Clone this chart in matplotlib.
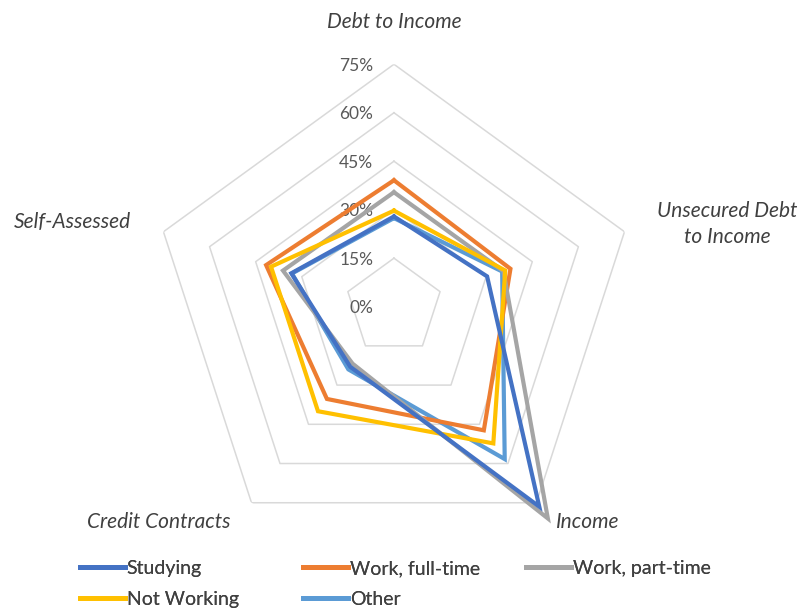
import numpy as np
import matplotlib
matplotlib.use("Agg")
import matplotlib.pyplot as plt
from matplotlib.lines import Line2D

plt.rcParams['font.family'] = ['Lato', 'DejaVu Sans']

# Data (percent)
categories = ["Debt to Income", "Unsecured Debt\nto Income", "Income",
              "Credit Contracts", "Self-Assessed"]
series_names = ["Studying", "Work, full-time", "Work, part-time", "Not Working", "Other"]
studying = [27.9, 30.3, 76.5, 23.0, 33.4]
full_time = [39.1, 37.9, 47.3, 35.3, 41.6]
part_time = [35.4, 35.6, 81.0, 21.8, 36.1]
not_working = [29.7, 36.2, 52.3, 40.0, 40.0]
other = [27.4, 35.2, 58.3, 24.0, 33.2]
ring_levels = [0, 15, 30, 45, 60, 75]
ring_labels = ["0%", "15%", "30%", "45%", "60%", "75%"]

colors = ["#4472C4", "#ED7D31", "#A5A5A5", "#FFC000", "#5B9BD5"]
values = [studying, full_time, part_time, not_working, other]
zorders = [3.5, 3.2, 3.3, 3.4, 3.1]

n = len(categories)
angles = np.linspace(0, 2 * np.pi, n, endpoint=False)
closed = np.append(angles, angles[0])

fig = plt.figure(figsize=(8.05, 6.10), dpi=100)
ax = fig.add_axes([0.1883, 0.0999, 0.6022, 0.7948], projection='polar')
ax.set_theta_offset(np.pi / 2)
ax.set_theta_direction(-1)
ax.set_ylim(0, 75)
ax.grid(False)
ax.spines['polar'].set_visible(False)
ax.set_xticks([])
ax.set_yticks([])
ax.patch.set_alpha(0)

# pentagon gridlines
for lvl in ring_levels[1:]:
    ax.plot(closed, [lvl] * (n + 1), color="#D9D9D9", lw=1.1, zorder=1)

# radial labels
for lvl, lab in zip(ring_levels, ring_labels):
    ax.annotate(lab, xy=(0, lvl), xytext=(-15, -1), textcoords='offset points',
                ha='right', va='center', fontsize=12.5, color="#595959",
                annotation_clip=False)

# series
for name, vals, col, z in zip(series_names, values, colors, zorders):
    ax.plot(closed, vals + vals[:1], color=col, lw=3, label=name,
            clip_on=False, zorder=z, solid_joinstyle='miter')

# category labels
label_pos = [(394, 22), (727, 224), (588, 522), (159, 522), (72, 222)]
for cat, (px, py) in zip(categories, label_pos):
    fig.text(px / 805, 1 - py / 610, cat, ha='center', va='center',
             fontsize=15, style='italic', color="#404040", linespacing=1.35)

# legend: one column block per position, rows filled left to right
handles = [Line2D([], [], color=c, lw=3.5) for c in colors]
columns = [[0, 3], [1, 4], [2]]
col_x = [80, 303, 526]
for idx, x in zip(columns, col_x):
    leg = fig.legend([handles[i] for i in idx], [series_names[i] for i in idx],
                     loc='upper left', bbox_to_anchor=(x / 805, 1 - 560 / 610),
                     frameon=False, fontsize=14, handlelength=2.3, handletextpad=0.1,
                     labelspacing=0.72, borderpad=0, borderaxespad=0)
    for t in leg.get_texts():
        t.set_color("#404040")
    fig.add_artist(leg)

fig.savefig("out.png", dpi=100)
